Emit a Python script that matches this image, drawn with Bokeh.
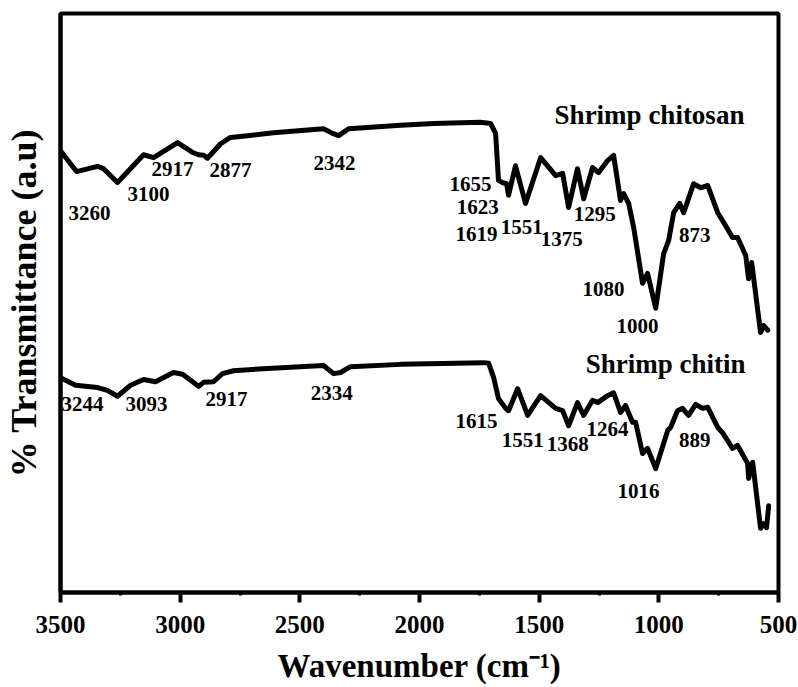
import numpy as np
from bokeh.plotting import figure
from bokeh.models import Range1d, SingleIntervalTicker, FixedTicker
from bokeh.core.properties import value
from bokeh.embed import file_html
from bokeh.resources import INLINE

FONT = "Liberation Serif"

# ---- spectra (wavenumber cm^-1, transmittance a.u.) ----
chitosan_wn = [3500, 3433, 3345, 3320, 3262, 3153, 3111, 3011, 2948, 2923, 2902, 2886,
               2831, 2790, 2718, 2610, 2401, 2363, 2338, 2296, 2079, 1941, 1745, 1703,
               1682, 1670, 1653, 1636, 1628, 1599, 1557, 1494, 1431, 1402, 1377, 1340,
               1314, 1277, 1252, 1214, 1189, 1160, 1147, 1126, 1105, 1068, 1047, 1013,
               980, 959, 938, 913, 896, 855, 825, 796, 754, 729, 692, 671, 637, 625,
               612, 575, 562, 545]
chitosan_t = [76.3, 72.7, 73.6, 73.2, 70.8, 75.6, 75.1, 77.7, 76.0, 75.6, 75.5, 75.0,
              77.5, 78.6, 78.9, 79.4, 80.1, 79.3, 78.9, 80.1, 80.7, 81.0, 81.2, 81.0,
              79.3, 71.2, 70.8, 70.6, 68.6, 73.7, 67.2, 75.1, 72.0, 72.4, 66.5, 73.2,
              68.0, 73.4, 72.5, 74.6, 75.5, 67.7, 68.9, 67.2, 63.0, 53.4, 55.1, 49.1,
              58.5, 60.8, 65.6, 67.2, 65.6, 70.6, 69.9, 70.3, 65.6, 63.9, 61.3, 61.3,
              58.2, 54.2, 57.0, 44.9, 46.1, 45.3]

chitin_wn = [3500, 3437, 3345, 3304, 3262, 3207, 3153, 3103, 3028, 2990, 2948, 2923,
             2902, 2861, 2823, 2777, 2635, 2401, 2359, 2330, 2288, 2079, 1732, 1711,
             1690, 1670, 1640, 1628, 1590, 1548, 1494, 1431, 1402, 1377, 1340, 1314,
             1277, 1256, 1214, 1189, 1160, 1139, 1110, 1097, 1068, 1047, 1013, 963,
             951, 922, 901, 876, 846, 817, 796, 754, 734, 692, 671, 629, 625, 608,
             575, 562, 550, 541]
chitin_t = [37.1, 35.8, 35.4, 34.9, 33.9, 35.8, 36.8, 36.4, 38.0, 37.7, 36.4, 35.6,
            36.3, 36.4, 37.8, 38.3, 38.7, 39.2, 37.8, 38.0, 39.0, 39.4, 39.7, 39.6,
            37.1, 33.5, 31.8, 31.4, 35.2, 30.6, 34.0, 31.8, 31.4, 28.8, 32.8, 30.6,
            33.2, 32.8, 34.0, 34.5, 31.1, 32.3, 29.4, 29.4, 24.0, 24.9, 21.4, 28.0,
            28.5, 31.4, 31.8, 30.6, 32.5, 31.8, 32.0, 28.5, 27.6, 24.9, 25.4, 22.3,
            19.7, 22.5, 11.1, 11.9, 11.2, 15.0]

# ---- peak annotations ----
chitosan_peaks = ["3260", "3100", "2917", "2877", "2342", "1655", "1623", "1619",
                  "1551", "1375", "1295", "1080", "1000", "873"]
chitosan_label_x = [3379, 3132, 3032, 2790, 2355, 1787, 1757, 1762, 1573, 1406,
                    1268, 1231, 1089, 850]
chitosan_label_y = [65.6, 68.9, 73.1, 72.9, 74.1, 70.6, 66.5, 62.0, 63.2, 61.1,
                    65.3, 52.5, 46.1, 61.7]

chitin_peaks = ["3244", "3093", "2917", "2334", "1615", "1551", "1368", "1264",
                "1016", "889"]
chitin_label_x = [3408, 3141, 2806, 2367, 1762, 1569, 1381, 1214, 1085, 850]
chitin_label_y = [32.6, 32.6, 33.5, 34.5, 29.7, 26.3, 25.6, 28.3, 17.6, 26.3]

series_names = ["Shrimp chitosan", "Shrimp chitin"]
series_label_x = [1039, 972]
series_label_y = [82.4, 39.4]

x_tick_interval = 500
x_label = "Wavenumber (cm\u207b\u00b9)"
y_label = "% Transmittance (a.u)"

p = figure(width=797, height=687, x_range=Range1d(3500, 500), y_range=Range1d(0, 100),
           output_backend="svg", toolbar_location=None,
           min_border_left=60, min_border_right=19, min_border_top=13, min_border_bottom=95)
p.background_fill_color = "white"
p.border_fill_color = "white"
p.outline_line_color = "black"
p.outline_line_width = 4
p.xgrid.visible = False
p.ygrid.visible = False

xa = p.xaxis[0]
xa.ticker = SingleIntervalTicker(interval=x_tick_interval, num_minor_ticks=2)
xa.axis_line_width = 4
xa.axis_line_color = "black"
xa.major_tick_line_width = 4
xa.major_tick_out = 10
xa.major_tick_in = 0
xa.minor_tick_line_width = 3
xa.minor_tick_out = 3
xa.minor_tick_in = 0
xa.major_label_text_font = FONT
xa.major_label_text_font_style = "bold"
xa.major_label_text_font_size = "25px"
xa.major_label_text_color = "black"
xa.major_label_standoff = 13
xa.axis_label = x_label
xa.axis_label_text_font = FONT
xa.axis_label_text_font_style = "bold"
xa.axis_label_text_font_size = "33px"
xa.axis_label_text_color = "black"
xa.axis_label_standoff = 12

ya = p.yaxis[0]
ya.ticker = FixedTicker(ticks=[])
ya.axis_line_width = 4
ya.axis_line_color = "black"
ya.major_tick_line_color = None
ya.minor_tick_line_color = None
ya.major_tick_out = 0
ya.major_tick_in = 0
ya.minor_tick_out = 0
ya.major_label_standoff = 0
ya.major_label_text_font_size = "0px"
ya.axis_label = y_label
ya.axis_label_text_font = FONT
ya.axis_label_text_font_style = "bold"
ya.axis_label_text_font_size = "36px"
ya.axis_label_text_color = "black"
ya.axis_label_standoff = 17

for wn, t in [(chitosan_wn, chitosan_t), (chitin_wn, chitin_t)]:
    p.line(wn, t, line_width=5, line_color="black", line_join="round", line_cap="round")

p.text(x=chitosan_label_x, y=chitosan_label_y, text=chitosan_peaks,
       text_font=value(FONT), text_font_style="bold", text_font_size="21px",
       text_align="center", text_baseline="middle", text_color="black")
p.text(x=chitin_label_x, y=chitin_label_y, text=chitin_peaks,
       text_font=value(FONT), text_font_style="bold", text_font_size="21px",
       text_align="center", text_baseline="middle", text_color="black")
p.text(x=series_label_x, y=series_label_y, text=series_names,
       text_font=value(FONT), text_font_style="bold", text_font_size="27px",
       text_align="center", text_baseline="middle", text_color="black")

open("out.html", "w").write(file_html(p, INLINE))
